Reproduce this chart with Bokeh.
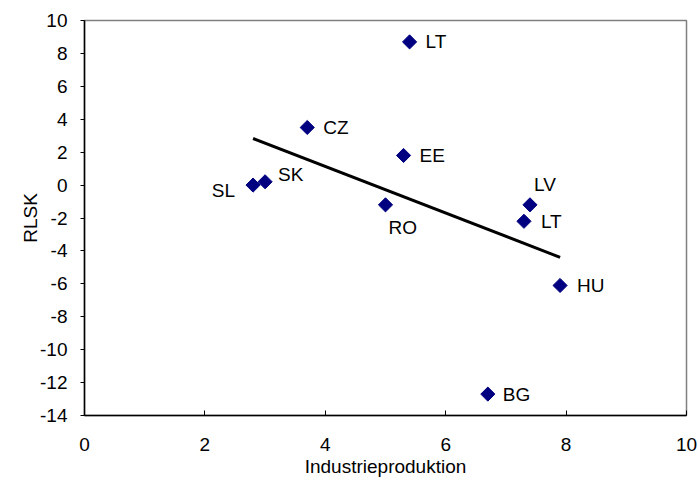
import numpy as np
from bokeh.plotting import figure
from bokeh.models import ColumnDataSource, FixedTicker, Range1d
from bokeh.core.properties import value
from bokeh.embed import file_html
from bokeh.resources import INLINE

# ---- data ----
countries = ["SL", "SK", "CZ", "LT", "EE", "RO", "LV", "LT", "HU", "BG"]
industrie = [2.8, 3.0, 3.7, 5.4, 5.3, 5.0, 7.4, 7.3, 7.9, 6.7]
rlsk = [0.0, 0.2, 3.5, 8.7, 1.8, -1.2, -1.2, -2.2, -6.1, -12.7]
x_ticks = [0, 2, 4, 6, 8, 10]
y_ticks = [-14, -12, -10, -8, -6, -4, -2, 0, 2, 4, 6, 8, 10]
x_title = "Industrieproduktion"
y_title = "RLSK"

# ---- label placement (styles) ----
lab_dx = [-18, 13, 16, 16, 16, 3, 4, 17, 17, 15]
lab_dy = [5, -7, 0, 0, 0, 23, -20, 0, 0, 0]
lab_align = ["right", "left", "left", "left", "left", "left", "left", "left", "left", "left"]

FONT = "Liberation Sans"
FS = "19px"

p = figure(width=698, height=484, output_backend="svg", toolbar_location=None,
           x_range=Range1d(0, 10), y_range=Range1d(-14, 10),
           min_border_left=84, min_border_right=12, min_border_top=20,
           min_border_bottom=69)
p.grid.visible = False
p.background_fill_color = "white"
p.border_fill_color = "white"
p.outline_line_color = "#808080"
p.outline_line_width = 1.5

# trend line (OLS over the data)
xs = np.array(industrie)
ys = np.array(rlsk)
slope, intercept = np.polyfit(xs, ys, 1)
lx = np.array([xs.min(), xs.max()])
p.line(lx, slope * lx + intercept, line_color="black", line_width=3)

src = ColumnDataSource(dict(x=industrie, y=rlsk, name=countries,
                            dx=lab_dx, dy=lab_dy, align=lab_align))
p.scatter("x", "y", source=src, marker="square", angle=np.pi / 4, size=10,
          fill_color="#000080", line_color="#000080")
p.text("x", "y", text="name", source=src, x_offset="dx", y_offset="dy",
       text_align="align", text_baseline="middle",
       text_font=value(FONT), text_font_size=FS, text_color="black")

# axes
p.xaxis.ticker = FixedTicker(ticks=x_ticks)
p.yaxis.ticker = FixedTicker(ticks=y_ticks)
p.xaxis.major_label_overrides = {t: str(t) for t in x_ticks}
p.yaxis.major_label_overrides = {t: str(t) for t in y_ticks}
for ax in (p.xaxis, p.yaxis):
    ax.axis_line_color = "black"
    ax.axis_line_width = 1.5
    ax.major_tick_line_color = "black"
    ax.major_tick_line_width = 1
    ax.minor_tick_line_color = None
    ax.major_label_text_font = FONT
    ax.major_label_text_font_size = FS
    ax.major_label_text_color = "black"
    ax.axis_label_text_font = FONT
    ax.axis_label_text_font_size = FS
    ax.axis_label_text_font_style = "normal"
    ax.axis_label_text_color = "black"

p.xaxis.axis_label = x_title
p.xaxis.major_tick_in = 5
p.xaxis.major_tick_out = 0
p.xaxis.major_label_standoff = 22
p.xaxis.axis_label_standoff = 2

p.yaxis.axis_label = y_title
p.yaxis.major_tick_in = 0
p.yaxis.major_tick_out = 4
p.yaxis.major_label_standoff = 13
p.yaxis.axis_label_standoff = -4

open("out.html", "w").write(file_html(p, INLINE))
